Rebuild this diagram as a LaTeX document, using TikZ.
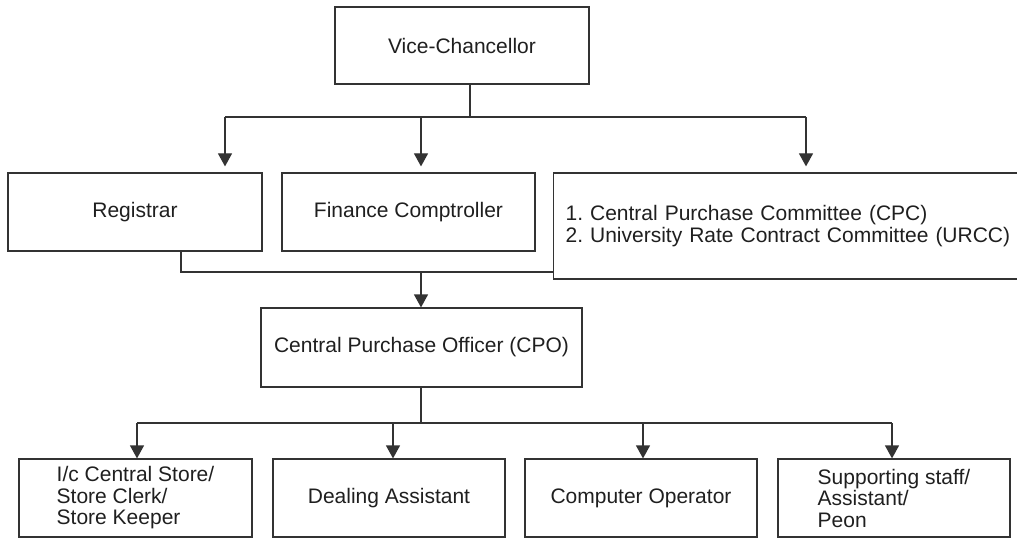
\documentclass[tikz,border=0pt]{standalone}
\usepackage{fontspec}
\setmainfont{Liberation Sans}
\usetikzlibrary{arrows.meta}
\begin{document}
\begin{tikzpicture}[x=1pt,y=-1pt,
  every node/.style={font=\fontsize{21}{21.5}\selectfont, text=black!88},
  box/.style={draw=black!80, line width=1.2pt, inner sep=0pt, align=left},
  ln/.style={draw=black!80, line width=1.2pt},
  arr/.style={ln, -{Triangle[width=14pt,length=13pt]}}]
\useasboundingbox (0,0) rectangle (1017,540);
\clip (0,0) rectangle (1017,540);
% top
\node[box, minimum width=254pt, minimum height=77pt] (vc) at (462,45.5) {Vice-Chancellor};
% second row
\node[box, minimum width=254pt, minimum height=78pt] (reg) at (135,212) {Registrar};
\node[box, minimum width=253pt, minimum height=78pt] (fin) at (408.5,212) {Finance Comptroller};
\node[box, anchor=west, minimum height=106pt, text width=452pt, inner xsep=12pt] (cpc) at (553,226)
  {1.\ Central Purchase Committee (CPC)\\2.\ University Rate Contract Committee (URCC)};
% CPO
\node[box, minimum width=321pt, minimum height=79pt] (cpo) at (421.5,347.5) {Central Purchase Officer (CPO)};
% bottom row
\node[box, minimum width=233pt, minimum height=78pt] (b1) at (135.5,498) {I/c Central Store/\\Store Clerk/\\Store Keeper};
\node[box, minimum width=232pt, minimum height=78pt] (b2) at (389,498) {Dealing Assistant};
\node[box, minimum width=232pt, minimum height=78pt] (b3) at (641,498) {Computer Operator};
\node[box, minimum width=232pt, minimum height=78pt] (b4) at (894,498) {Supporting staff/\\Assistant/\\Peon};
% connectors top
\coordinate (vcs) at (470,84);
\coordinate (t0) at (470,117);
\coordinate (t1) at (225,117);
\coordinate (t2) at (421,117);
\coordinate (t3) at (806,117);
\draw[ln] (vcs) -- (t0);
\draw[ln] (t1) -- (t3);
\draw[arr, shorten >=6pt] (t1) -- (t1 |- reg.north);
\draw[arr, shorten >=6pt] (t2) -- (t2 |- fin.north);
\draw[arr, shorten >=6pt] (t3) -- (t3 |- cpc.north);
% merge
\coordinate (m1) at (181,272);
\coordinate (m2) at (421,272);
\draw[ln] (m1 |- reg.south) -- (m1) -- (m1 -| cpc.west);
\draw[arr] (m2) -- (m2 |- cpo.north);
% bottom connectors
\coordinate (c0) at (421,423);
\coordinate (c1) at (137,423);
\coordinate (c2) at (393,423);
\coordinate (c3) at (643,423);
\coordinate (c4) at (892,423);
\draw[ln] (c0 |- cpo.south) -- (c0);
\draw[ln] (c1) -- (c4);
\draw[arr] (c1) -- (c1 |- b1.north);
\draw[arr] (c2) -- (c2 |- b2.north);
\draw[arr] (c3) -- (c3 |- b3.north);
\draw[arr] (c4) -- (c4 |- b4.north);
\end{tikzpicture}
\end{document}
